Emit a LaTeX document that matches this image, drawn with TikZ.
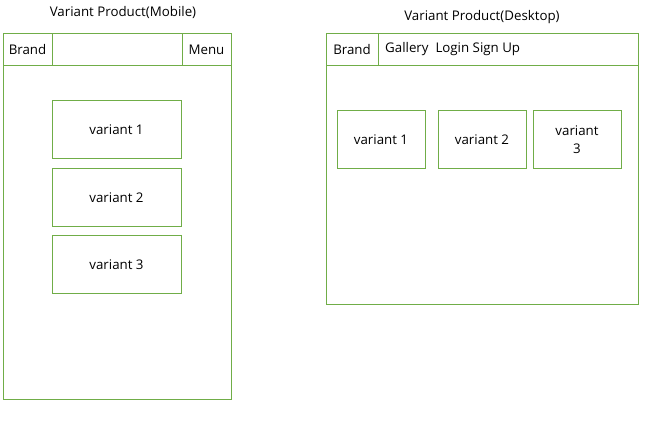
\documentclass[tikz,border=0pt]{standalone}
\usepackage{fontspec}
\setmainfont{Open Sans}
\definecolor{framegreen}{RGB}{112,173,71}

\begin{document}
\begin{tikzpicture}[x=1pt,y=-1pt,
		box/.style={draw=framegreen, line width=1pt, inner sep=0pt},
		cell/.style={box, minimum height=32pt},
		variant/.style={box, minimum width=88pt, minimum height=58pt, align=center},
		title/.style={inner sep=0pt},
		every node/.style={font=\fontsize{13.3}{18}\selectfont}]
	\useasboundingbox (0,0) rectangle (657,441);
	% mobile layout
	\node[title] (mobtitle) at (123,13) {Variant Product(Mobile)};
	\node[box, minimum width=228pt, minimum height=366pt] (mob) at (117,216.5) {};
	\node[cell, minimum width=49pt] (mobbrand) at (27.5,49.5) {Brand};
	\node[cell, minimum width=130pt] (mobbar) at (117,49.5) {};
	\node[cell, minimum width=49pt] (mobmenu) at (206.5,49.5) {Menu};
	\node[variant, minimum width=129pt] (mobv1) at (116.5,129.5) {variant 1};
	\node[variant, minimum width=129pt] (mobv2) at (116.5,197.5) {variant 2};
	\node[variant, minimum width=129pt] (mobv3) at (116.5,264.5) {variant 3};
	% desktop layout
	\node[title] (desktitle) at (482,17) {Variant Product(Desktop)};
	\node[box, minimum width=312pt, minimum height=271pt] (desk) at (482,169) {};
	\node[cell, minimum width=52pt] (deskbrand) at (352,49.5) {Brand};
	\node[cell, minimum width=260pt] (deskbar) at (508,49.5) {};
	\node[title, anchor=west] (desklinks) at (385,49.5) {Gallery\ \ Login Sign Up};
	\node[variant] (deskv1) at (381,139.5) {variant 1};
	\node[variant] (deskv2) at (482,139.5) {variant 2};
	\node[variant] (deskv3) at (577,139.5) {variant\\3};
\end{tikzpicture}
\end{document}
